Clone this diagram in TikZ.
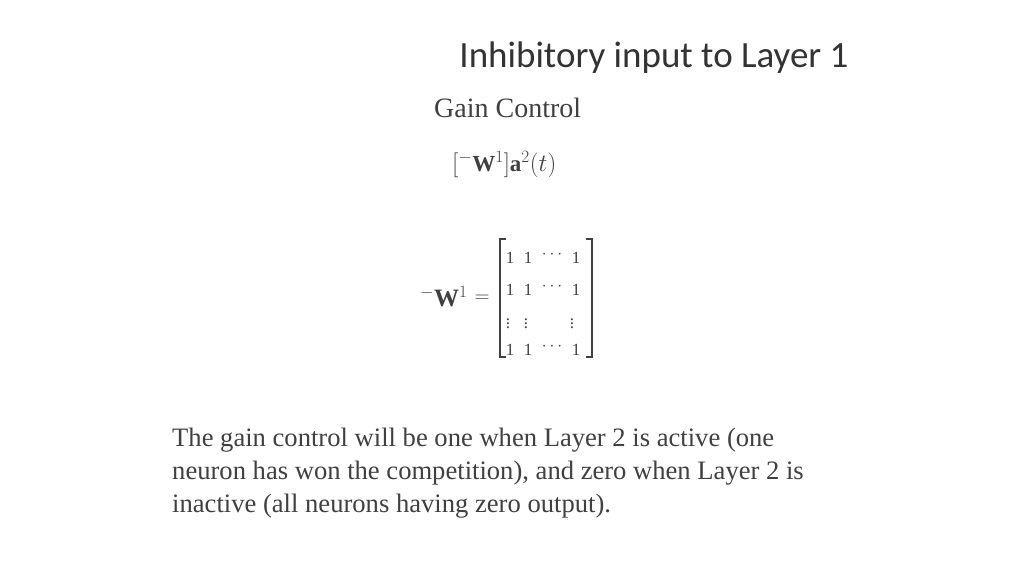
\documentclass[tikz,border=0pt]{standalone}
\usepackage{fontspec}
\setmainfont{Liberation Serif}
\newfontfamily\titlefont{Carlito}
\begin{document}
\begin{tikzpicture}[x=1pt,y=-1pt]
\useasboundingbox[fill=white] (0,0) rectangle (1024,576);
\tikzset{txt/.style={inner sep=0pt,text=black!80},
 ent/.style={inner sep=0pt,text=black!75,font=\fontsize{17}{20}\selectfont},
 brk/.style={draw=black!75,line width=1.6pt}}
\node[txt,font=\titlefont\fontsize{37}{44}\selectfont] (title) at (654,58) {Inhibitory input to Layer 1};
\node[txt,anchor=west,font=\fontsize{28}{32}\selectfont,text=black!75] (gain) at (434,108) {Gain Control};
\node[txt,anchor=west,font=\fontsize{23}{26}\selectfont,text=black!75] (formula) at (452,165) {$[{}^{-}\mathbf{W}^1]\mathbf{a}^2(t)$};
\node[txt,anchor=west,font=\fontsize{25}{28}\selectfont,text=black!75] (lhs) at (420,297) {${}^{-}\mathbf{W}^1$};
\node[txt,font=\fontsize{20}{24}\selectfont,text=black!75] (eq) at (482,299) {$=$};
\foreach \r/\y in {1/258,2/290,4/350}{
  \node[ent] (m\r a) at (510,\y) {1};
  \node[ent] (m\r b) at (528,\y) {1};
  \node[ent] (m\r c) at (552,\y-3) {$\cdots$};
  \node[ent] (m\r d) at (576,\y) {1};
}
\node[ent] (m3a) at (508,321) {$\vdots$};
\node[ent] (m3b) at (526,321) {$\vdots$};
\node[ent] (m3d) at (572,321) {$\vdots$};
\coordinate (lt) at (500,239); \coordinate (lb) at (500,357);
\coordinate (rt) at (592,239); \coordinate (rb) at (592,357);
\draw[brk] ([xshift=6pt]lt) -- (lt) -- (lb) -- ([xshift=6pt]lb);
\draw[brk] ([xshift=-6pt]rt) -- (rt) -- (rb) -- ([xshift=-6pt]rb);
\node[txt,anchor=north west,align=left,font=\fontsize{26.6}{33}\selectfont,text=black!75] (body) at (172,428)
 {The gain control will be one when Layer 2 is active (one\\neuron has won the competition), and zero when Layer 2 is\\inactive (all neurons having zero output).};
\end{tikzpicture}
\end{document}
